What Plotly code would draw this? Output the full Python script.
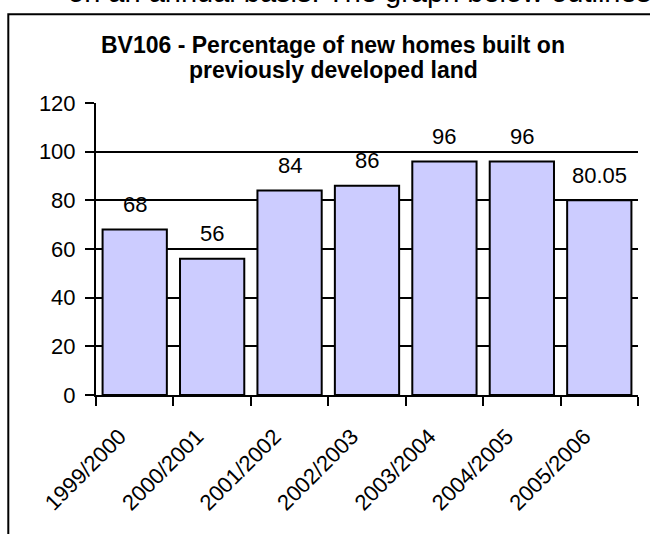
import plotly.graph_objects as go

categories = ["1999/2000", "2000/2001", "2001/2002", "2002/2003", "2003/2004", "2004/2005", "2005/2006"]
values = [68, 56, 84, 86, 96, 96, 80.05]
value_labels = ["68", "56", "84", "86", "96", "96", "80.05"]
y_ticks = [0, 20, 40, 60, 80, 100, 120]

FONT = "Arial, Liberation Sans, sans-serif"

# plot area in pixels
L, R, T, B = 96, 12, 103, 139
W, H = 650, 534
PW = W - L - R
PH = H - T - B

def px(x):
    return (x - L) / PW

def py(y):
    return (H - B - y) / PH

fig = go.Figure()
fig.add_trace(go.Bar(
    x=categories, y=values,
    marker=dict(color="#CCCCFF", line=dict(color="black", width=2)),
    hoverinfo="skip",
))

annotations = []
for c, v, t in zip(categories, values, value_labels):
    annotations.append(dict(x=c, y=v, xref="x", yref="y", text=t, showarrow=False,
                            yshift=25, yanchor="middle",
                            font=dict(family=FONT, size=22, color="black")))

annotations.append(dict(x=px(333), y=py(45), xref="paper", yref="paper",
                        text="<b>BV106 - Percentage of new homes built on</b>", showarrow=False,
                        xanchor="center", yanchor="middle",
                        font=dict(family=FONT, size=23, color="black")))
annotations.append(dict(x=px(333), y=py(70), xref="paper", yref="paper",
                        text="<b>previously developed land</b>", showarrow=False,
                        xanchor="center", yanchor="middle",
                        font=dict(family=FONT, size=23, color="black")))
annotations.append(dict(x=px(66), y=py(-8), xref="paper", yref="paper",
                        text="on an annual basis. The graph below outlines", showarrow=False,
                        xanchor="left", yanchor="middle",
                        font=dict(family=FONT, size=29, color="black")))

shapes = [dict(type="path", xref="paper", yref="paper",
               path=f"M {px(8.3)} {py(545)} L {px(8.3)} {py(14.3)} L {px(670)} {py(14.3)}",
               line=dict(color="black", width=2))]

fig.update_layout(
    width=W, height=H,
    margin=dict(l=L, r=R, t=T, b=B, pad=0),
    paper_bgcolor="white", plot_bgcolor="white",
    showlegend=False,
    bargap=0.17,
    annotations=annotations,
    shapes=shapes,
    font=dict(family=FONT, size=22, color="black"),
)
fig.update_xaxes(
    type="category", tickson="boundaries", ticks="outside", ticklen=9, tickwidth=2,
    tickcolor="black", showline=True, linecolor="black", linewidth=2,
    tickangle=-45, tickfont=dict(family=FONT, size=22, color="black"),
    ticklabelstandoff=18, ticklabelshift=-15,
    showgrid=False, zeroline=False,
)
fig.update_yaxes(
    range=[0, 120], tickvals=y_ticks, ticks="outside", ticklen=9, tickwidth=2,
    tickcolor="black", showline=True, linecolor="black", linewidth=2,
    showgrid=True, gridcolor="black", gridwidth=2, zeroline=False,
    ticklabelstandoff=5,
    tickfont=dict(family=FONT, size=22, color="black"),
)

fig.write_html("out.html")
